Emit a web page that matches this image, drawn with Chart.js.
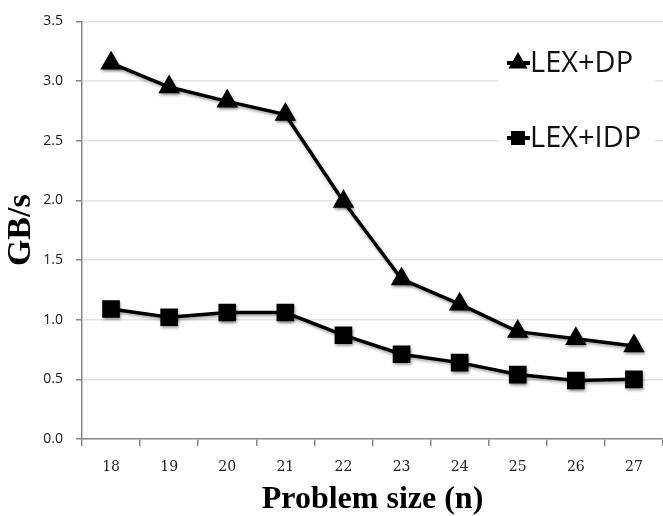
<!DOCTYPE html>
<html>
<head>
<meta charset="utf-8">
<script src="https://cdn.jsdelivr.net/npm/chart.js@4.4.1/dist/chart.umd.min.js"></script>
<style>
  html, body { margin: 0; padding: 0; background: #fff; }
  #wrap { width: 663px; height: 516px; }
</style>
</head>
<body>
<div id="wrap"><canvas id="chart" width="663" height="516"></canvas></div>
<script>
// values
const sizes = ["18", "19", "20", "21", "22", "23", "24", "25", "26", "27"];
const lexDP = [3.15, 2.95, 2.83, 2.72, 1.99, 1.34, 1.13, 0.90, 0.84, 0.78];
const lexIDP = [1.09, 1.02, 1.06, 1.06, 0.87, 0.71, 0.64, 0.54, 0.49, 0.50];
const yTicks = [0, 0.5, 1.0, 1.5, 2.0, 2.5, 3.0, 3.5];

// white patch under the legend, drawn over the gridlines
const legendPatch = {
  id: "legendPatch",
  beforeDatasetsDraw(chart) {
    const ctx = chart.ctx;
    ctx.save();
    ctx.fillStyle = "#fff";
    ctx.fillRect(498, 32, 157, 128);
    ctx.restore();
  }
};

// soft drop shadow on the series, like the original
const shadow = {
  id: "shadow",
  beforeDatasetsDraw(chart) {
    const ctx = chart.ctx;
    ctx.save();
    ctx.shadowColor = "rgba(0,0,0,0.35)";
    ctx.shadowBlur = 3;
    ctx.shadowOffsetX = 1;
    ctx.shadowOffsetY = 2;
  },
  afterDatasetsDraw(chart) {
    chart.ctx.restore();
  }
};

// legend inside the plot
const insideLegend = {
  id: "insideLegend",
  afterDraw(chart) {
    const ctx = chart.ctx;
    const rows = [63, 138];
    chart.data.datasets.forEach((ds, i) => {
      const y = rows[i];
      ctx.save();
      ctx.strokeStyle = "#000";
      ctx.lineWidth = 4;
      ctx.beginPath();
      ctx.moveTo(507, y);
      ctx.lineTo(530, y);
      ctx.stroke();
      ctx.fillStyle = "#000";
      Chart.helpers.drawPoint(ctx, {pointStyle: ds.pointStyle, radius: 7, rotation: 0, borderWidth: 1}, 518, y);
      ctx.fillStyle = "#111";
      ctx.font = "29px 'Open Sans'";
      ctx.textBaseline = "middle";
      ctx.textAlign = "left";
      ctx.fillText(ds.label, 530, y + 1);
      ctx.restore();
    });
  }
};

new Chart(document.getElementById("chart"), {
  type: "line",
  data: {
    labels: sizes,
    datasets: [
      {label: "LEX+DP", data: lexDP, borderColor: "#000", backgroundColor: "#000",
       borderWidth: 3.5, pointStyle: "triangle", pointRadius: 9, pointHoverRadius: 9, tension: 0},
      {label: "LEX+IDP", data: lexIDP, borderColor: "#000", backgroundColor: "#000",
       borderWidth: 3.5, pointStyle: "rect", pointRadius: 10, pointHoverRadius: 10, tension: 0}
    ]
  },
  options: {
    responsive: false,
    animation: false,
    events: [],
    layout: {autoPadding: false, padding: {top: 15, right: 0, left: 0, bottom: 0}},
    plugins: {legend: {display: false}, tooltip: {enabled: false}},
    scales: {
      x: {
        offset: true,
        grid: {offset: true, drawOnChartArea: false, drawTicks: true, tickLength: 7, tickColor: "#888", lineWidth: 1.5},
        border: {color: "#888", width: 1.5},
        ticks: {color: "#222", padding: 13, font: {family: "'DejaVu Serif'", size: 14}},
        title: {display: true, text: "Problem size (n)", color: "#000",
                font: {family: "'Liberation Serif'", size: 32, weight: "bold", lineHeight: 1},
                padding: {top: 0, bottom: 0}},
        afterFit(scale) { scale.height = 77; }
      },
      y: {
        min: 0,
        max: 3.5,
        afterBuildTicks(scale) { scale.ticks = yTicks.map(v => ({value: v})); },
        grid: {color: "#e4e4e4", lineWidth: 1.5, tickColor: "#888", tickLength: 6},
        border: {color: "#888", width: 1.5},
        ticks: {color: "#1a1a1a", padding: 13, font: {family: "'Open Sans'", size: 14},
                callback: v => Number(v).toFixed(1)},
        title: {display: true, text: "GB/s", color: "#000",
                font: {family: "'Liberation Serif'", size: 34, weight: "bold", lineHeight: 1},
                padding: {top: 4, bottom: 4}},
        afterFit(scale) { scale.width = 82; }
      }
    }
  },
  plugins: [legendPatch, shadow, insideLegend]
});
</script>
</body>
</html>
